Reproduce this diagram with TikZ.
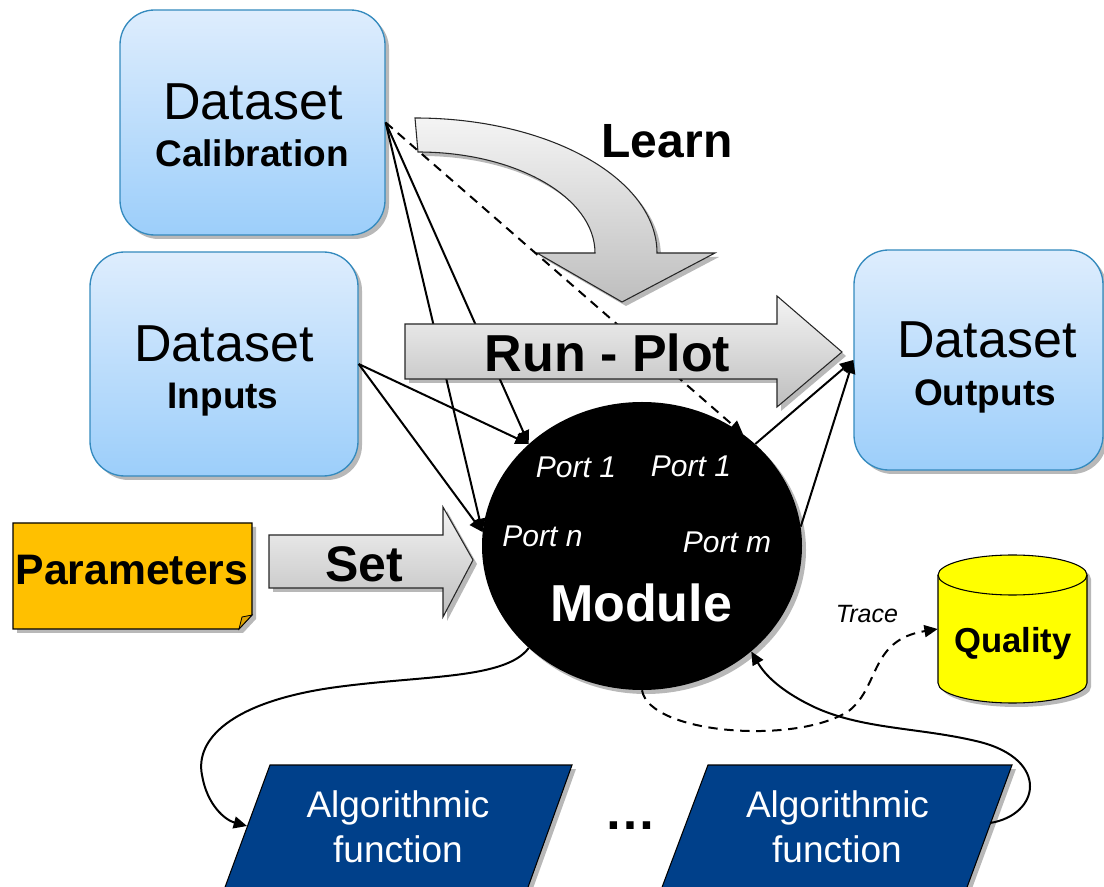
\documentclass[tikz,border=0pt]{standalone}
\usepackage{fontspec}
\setmainfont{Liberation Sans}
\usetikzlibrary{arrows.meta,shapes.geometric,shadows}
\definecolor{boxtop}{RGB}{222,237,253}
\definecolor{boxbot}{RGB}{156,206,250}
\definecolor{boxline}{RGB}{52,138,190}
\definecolor{paramfill}{RGB}{255,192,0}
\definecolor{paramfold}{RGB}{222,162,0}
\definecolor{algblue}{RGB}{0,64,138}
\definecolor{arrtop}{RGB}{244,244,244}
\definecolor{arrbot}{RGB}{190,190,190}
\definecolor{qyellow}{RGB}{255,255,0}
\newcommand{\myfs}[1]{\fontsize{#1}{#1}\selectfont}
\begin{document}
\begin{tikzpicture}[x=0.75pt,y=-0.75pt,
  shadowed/.style={drop shadow={shadow xshift=3pt,shadow yshift=-3pt,opacity=0.28,fill=black}},
  dsbox/.style={draw=boxline,line width=1pt,rounded corners=26pt,top color=boxtop,bottom color=boxbot,inner sep=0pt,shadowed},
  conn/.style={line width=1.5pt,-{Triangle[length=10pt,width=9pt]}},
  dconn/.style={conn,dash pattern=on 7pt off 5pt},
  blockarrow/.style={draw=black!85,line width=0.8pt,top color=arrtop,bottom color=arrbot,shadowed},
  txt/.style={anchor=base,inner sep=0pt},
  bigbold/.style={txt,font=\bfseries\myfs{39pt}},
  ds/.style={txt,font=\myfs{39pt}},
  dssub/.style={txt,font=\bfseries\myfs{27.75pt}},
  port/.style={txt,text=white,font=\itshape\myfs{22.5pt}},
  algtxt/.style={txt,text=white,font=\myfs{27.75pt}}]
\useasboundingbox (0,0) rectangle (1104,887);

% dataset boxes
\node[dsbox,minimum width=198.75pt,minimum height=168.75pt] (calib) at (252.5,122.5) {};
\node[dsbox,minimum width=201pt,minimum height=168pt] (inputs) at (224,364) {};
\node[dsbox,minimum width=186.75pt,minimum height=165pt] (outputs) at (978.5,360) {};
\node[ds] (calibA) at (253,120) {Dataset};
\node[dssub] (calibB) at (252,167) {Calibration};
\node[ds] (inputsA) at (224,362) {Dataset};
\node[dssub] (inputsB) at (223,409) {Inputs};
\node[ds] (outputsA) at (987,358) {Dataset};
\node[dssub] (outputsB) at (985,406) {Outputs};

% Learn arrow
\shade[blockarrow] (415,118) .. controls (548.6,118) and (657,178.5) .. (657,253)
  -- (715,253) -- (622,302) -- (537,253) -- (595,253)
  .. controls (595,197.2) and (515.7,152) .. (418,152) -- cycle;
\node[txt,font=\bfseries\myfs{36pt}] (learn) at (667,158) {Learn};

% Parameters note
\filldraw[fill=paramfill,draw=black,line width=0.8pt,shadowed] (13,523) -- (252,523) -- (252,615) -- (239,629) -- (13,629) -- cycle;
\filldraw[fill=paramfold,draw=black,line width=0.6pt] (239,629) -- (242,617) -- (252,615) -- cycle;
\node[txt,font=\bfseries\myfs{32pt}] (params) at (132,585) {Parameters};

% Set arrow
\shade[blockarrow] (269,535) -- (443,535) -- (443,507) -- (473,560) -- (443,617) -- (443,588) -- (269,588) -- cycle;
\node[txt,font=\bfseries\myfs{37.5pt}] (set) at (364,582) {Set};

% Module
\node[ellipse,fill=black,minimum width=240pt,minimum height=216pt,inner sep=0pt,shadowed] (module) at (642,546) {};
\node[port] (p1a) at (576,478) {Port 1};
\node[port] (p1b) at (691,477) {Port 1};
\node[port] (pn) at (542.5,547) {Port n};
\node[port] (pm) at (727,553) {Port m};
\node[txt,text=white,font=\bfseries\myfs{39pt}] (modtxt) at (641,622) {Module};

% connectors into / out of module
\draw[conn] (calib.east) -- (module.138);
\draw[conn] (calib.east) -- (module.175);
\draw[conn] (inputs.east) -- (module.138);
\draw[conn] (inputs.east) -- (module.175);
\draw[dconn] (calib.east) -- (module.48);
\draw[conn] (module.42) -- (outputs.west);
\draw[conn] (module.7) -- (outputs.west);

% Run - Plot arrow (on top of lines)
\shade[blockarrow] (405,324) -- (777,324) -- (777,296) -- (842,352) -- (777,407) -- (777,379) -- (405,379) -- cycle;
\node[bigbold] (runplot) at (607.5,372) {Run - Plot};

% Quality cylinder
\filldraw[fill=qyellow,draw=black,line width=0.8pt,shadowed] (938,575) -- (938,683)
  .. controls (938,694) and (971.4,703) .. (1012.5,703)
  .. controls (1053.6,703) and (1087,694) .. (1087,683) -- (1087,575)
  .. controls (1087,564) and (1053.6,555) .. (1012.5,555)
  .. controls (971.4,555) and (938,564) .. (938,575) -- cycle;
\draw[line width=0.8pt] (938,575) .. controls (938,586) and (971.4,595) .. (1012.5,595)
  .. controls (1053.6,595) and (1087,586) .. (1087,575);
\node[inner sep=0pt,minimum width=111.75pt,minimum height=111pt] (quality) at (1012.5,629) {};
\node[txt,font=\bfseries\myfs{26pt}] (qualtxt) at (1013,653) {Quality};
\node[txt,font=\itshape\myfs{18.75pt}] (trace) at (867,623) {Trace};

% Algorithmic functions
\filldraw[fill=algblue,draw=black,line width=0.8pt,shadowed] (270,765) -- (572,765) -- (527,890) -- (224,890) -- cycle;
\filldraw[fill=algblue,draw=black,line width=0.8pt,shadowed] (708,765) -- (1012,765) -- (966,890) -- (661,890) -- cycle;
\node[algtxt] (alg1a) at (398,817) {Algorithmic};
\node[algtxt] (alg1b) at (398,862) {function};
\node[algtxt] (alg2a) at (837.5,817) {Algorithmic};
\node[algtxt] (alg2b) at (837,862) {function};
\node[txt,font=\bfseries\myfs{39pt}] (dots) at (630,829) {…};
\coordinate (alg1in) at (247,826);
\coordinate (alg2out) at (990,823);

% loops
\draw[conn] (module.222) .. controls (505,680) and (420,675) .. (330,688)
  .. controls (230,703) and (195,740) .. (202,775)
  .. controls (207,805) and (225,820) .. (alg1in);
\draw[conn] (alg2out) .. controls (1040,815) and (1050,760) .. (980,742)
  .. controls (920,727) and (860,730) .. (810,705)
  .. controls (780,690) and (765,675) .. (module.316);
\draw[dconn] (module.270) .. controls (650,735) and (800,745) .. (850,710)
  .. controls (880,685) and (870,640) .. (quality.west);
\end{tikzpicture}
\end{document}
